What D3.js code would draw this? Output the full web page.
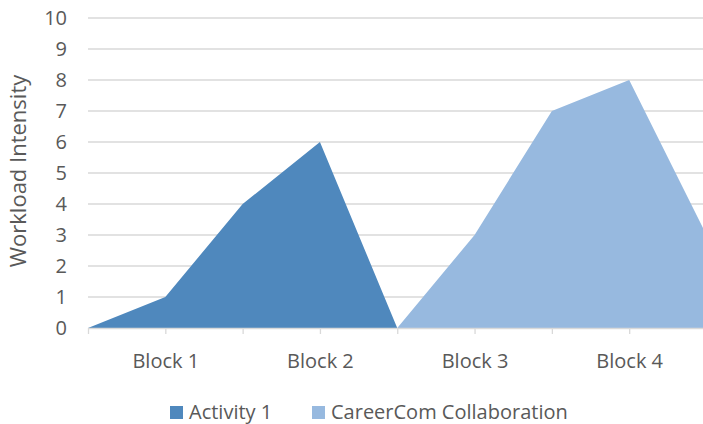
<!DOCTYPE html>
<html>
<head>
<meta charset="utf-8">
<script src="https://cdnjs.cloudflare.com/ajax/libs/d3/7.8.5/d3.min.js"></script>
<style>
  body { margin: 0; background: #fff; }
  text { font-family: "Open Sans", "Noto Sans", sans-serif; fill: #595959; }
</style>
</head>
<body>
<div class="container"></div>
<script>
var w = 703;
var h = 424;

// category slots along the x axis, labels only on the odd ones
var categories = ["", "Block 1", "", "Block 2", "", "Block 3", "", "Block 4", ""];
var yTicks = [0, 1, 2, 3, 4, 5, 6, 7, 8, 9, 10];

var activity1 = [[0, 0], [1, 1], [2, 4], [3, 6], [4, 0]];
var careerCom = [[4, 0], [5, 3], [6, 7], [7, 8], [8, 3]];

var seriesNames = ["Activity 1", "CareerCom Collaboration"];
var colors = ["#4f88bd", "#97b9df"];

var svg = d3.select('.container')
  .append('svg')
  .attr('width', w)
  .attr('height', h);

var xScale = d3.scaleLinear()
  .domain([0, 8])
  .range([88, 706.5]);

var yScale = d3.scaleLinear()
  .domain([0, 10])
  .range([328, 18]);

// gridlines
svg.append('g')
  .selectAll('line')
  .data(yTicks.filter(d => d > 0))
  .enter()
  .append('line')
  .attr('x1', xScale(0))
  .attr('x2', w)
  .attr('y1', d => yScale(d))
  .attr('y2', d => yScale(d))
  .style('stroke', '#d9d9d9')
  .style('stroke-width', 1.3);

// y tick labels
svg.append('g')
  .selectAll('text')
  .data(yTicks)
  .enter()
  .append('text')
  .attr('x', 67)
  .attr('y', d => yScale(d) + 7)
  .attr('text-anchor', 'end')
  .style('font-size', '20px')
  .text(d => d);

var area = d3.area()
  .x(d => xScale(d[0]))
  .y0(yScale(0))
  .y1(d => yScale(d[1]));

svg.append('path')
  .datum(activity1)
  .attr('d', area)
  .style('fill', colors[0]);

svg.append('path')
  .datum(careerCom)
  .attr('d', area)
  .style('fill', colors[1]);

// x axis
var xAxis = d3.axisBottom(xScale)
  .tickValues(d3.range(categories.length))
  .tickSize(6)
  .tickFormat(i => categories[i]);

var xg = svg.append('g')
  .attr('transform', 'translate(0,' + yScale(0) + ')')
  .call(xAxis);

xg.select('.domain')
  .attr('d', 'M' + xScale(0) + ',0.5H' + w)
  .style('stroke', '#d9d9d9')
  .style('stroke-width', 1.3);
xg.selectAll('.tick line').style('stroke', '#d9d9d9').style('stroke-width', 1.3);
xg.selectAll('.tick text')
  .attr('dy', 0)
  .attr('y', 40)
  .style('font-size', '20px')
  .style('font-family', '"Open Sans", "Noto Sans", sans-serif')
  .style('fill', '#595959');

// y axis title
svg.append('text')
  .attr('transform', 'translate(26,' + 171 + ') rotate(-90)')
  .attr('text-anchor', 'middle')
  .style('font-size', '22px')
  .text('Workload Intensity');

// legend
var legend = svg.append('g').attr('id', 'legend');
var legendX = [170, 312];
seriesNames.forEach(function(name, i) {
  legend.append('rect')
    .attr('x', legendX[i])
    .attr('y', 406)
    .attr('width', 13)
    .attr('height', 13)
    .style('fill', colors[i]);
  legend.append('text')
    .attr('x', legendX[i] + 19)
    .attr('y', 419)
    .style('font-size', '20px')
    .text(name);
});
</script>
</body>
</html>
